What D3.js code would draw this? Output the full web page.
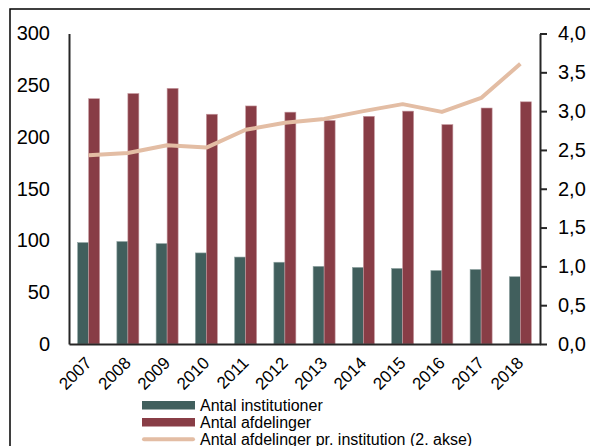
<!DOCTYPE html>
<html>
<head>
<meta charset="utf-8">
<script src="https://cdnjs.cloudflare.com/ajax/libs/d3/7.8.5/d3.min.js"></script>
<style>
  body { margin: 0; background: #fff; }
  svg { font-family: "Liberation Sans", Arial, sans-serif; }
</style>
</head>
<body>
<svg width="590" height="446"></svg>
<script>
// data
var years = ['2007', '2008', '2009', '2010', '2011', '2012', '2013', '2014', '2015', '2016', '2017', '2018']
var institutioner = [98, 99, 97, 88, 84, 79, 75, 74, 73, 71, 72, 65]
var afdelinger = [237, 242, 247, 222, 230, 224, 216, 220, 225, 212, 228, 234]
var prInstitution = [2.43, 2.46, 2.56, 2.53, 2.76, 2.85, 2.90, 3.00, 3.09, 2.99, 3.17, 3.61]
var leftTicks = [0, 50, 100, 150, 200, 250, 300]
var rightTicks = [0, 0.5, 1, 1.5, 2, 2.5, 3, 3.5, 4]
var seriesNames = ['Antal institutioner', 'Antal afdelinger', 'Antal afdelinger pr. institution (2. akse)']

var green = '#415f5d'
var red = '#883d46'
var sand = '#e3bda4'
var axisColor = '#262626'

var svg = d3.select('svg')
var margin = { top: 33.5, right: 50, bottom: 102, left: 69 }
var width = 540 - margin.left
var height = 344 - margin.top

// outer frame
svg.append('rect')
  .attr('x', 10).attr('y', 9)
  .attr('width', 620).attr('height', 500)
  .attr('fill', 'none')
  .attr('stroke', '#000')
  .attr('stroke-width', 1.5)

var g = svg.append('g')
  .attr('transform', 'translate(' + margin.left + ',' + margin.top + ')')

var x = d3.scaleBand().domain(years).range([0, width]).paddingInner(0).paddingOuter(0)
var y = d3.scaleLinear().domain([0, 300]).range([height, 0])
var y2 = d3.scaleLinear().domain([0, 4]).range([height, 0])

var barW = 11

// bars
g.selectAll('.inst')
  .data(institutioner)
  .enter().append('rect')
  .attr('x', function (d, i) { return x(years[i]) + x.bandwidth() / 2 - barW })
  .attr('y', function (d) { return y(d) })
  .attr('width', barW)
  .attr('height', function (d) { return height - y(d) })
  .attr('fill', green)
  .attr('stroke', '#8fa3a2')
  .attr('stroke-width', 0.6)

g.selectAll('.afd')
  .data(afdelinger)
  .enter().append('rect')
  .attr('x', function (d, i) { return x(years[i]) + x.bandwidth() / 2 })
  .attr('y', function (d) { return y(d) })
  .attr('width', barW)
  .attr('height', function (d) { return height - y(d) })
  .attr('fill', red)
  .attr('stroke', '#c79aa0')
  .attr('stroke-width', 0.6)

// line
var line = d3.line()
  .x(function (d, i) { return x(years[i]) + x.bandwidth() / 2 })
  .y(function (d) { return y2(d) })

g.append('path')
  .datum(prInstitution)
  .attr('fill', 'none')
  .attr('stroke', sand)
  .attr('stroke-width', 4)
  .attr('stroke-linejoin', 'round')
  .attr('d', line)

// left axis
var ax = g.append('g')
  .call(d3.axisLeft(y).tickValues(leftTicks).tickSize(0).tickPadding(19))
ax.select('.domain').attr('stroke', axisColor).attr('stroke-width', 2)
ax.selectAll('text').attr('font-size', 20).attr('fill', '#000')
  .attr('font-family', '"Liberation Sans", Arial, sans-serif')

// right axis
var ar = g.append('g')
  .attr('transform', 'translate(' + width + ',0)')
  .call(d3.axisRight(y2).tickValues(rightTicks).tickSize(7).tickSizeOuter(0).tickPadding(11)
    .tickFormat(function (d) { return d3.format('.1f')(d).replace('.', ',') }))
ar.select('.domain').attr('stroke', axisColor).attr('stroke-width', 2)
ar.selectAll('line').attr('stroke', axisColor).attr('stroke-width', 2)
ar.selectAll('text').attr('font-size', 20).attr('fill', '#000')
  .attr('font-family', '"Liberation Sans", Arial, sans-serif')

// bottom axis
var ab = g.append('g')
  .attr('transform', 'translate(0,' + height + ')')
  .call(d3.axisBottom(x).tickSize(0).tickPadding(0))
ab.select('.domain').attr('stroke', axisColor).attr('stroke-width', 2)
ab.selectAll('text')
  .attr('font-size', 17).attr('fill', '#000')
  .attr('font-family', '"Liberation Sans", Arial, sans-serif')
  .attr('text-anchor', 'end')
  .attr('dy', null)
  .attr('transform', 'translate(4,20) rotate(-45)')

// legend
var legend = svg.append('g').attr('transform', 'translate(142,0)')
var rows = [401, 418, 435]
seriesNames.forEach(function (name, i) {
  var row = legend.append('g').attr('transform', 'translate(0,' + rows[i] + ')')
  if (i < 2) {
    row.append('rect').attr('x', 0).attr('y', 0).attr('width', 53).attr('height', 8.5)
      .attr('fill', i === 0 ? green : red)
  } else {
    row.append('line').attr('x1', 2).attr('x2', 51).attr('y1', 4.3).attr('y2', 4.3)
      .attr('stroke', sand).attr('stroke-width', 4).attr('stroke-linecap', 'round')
  }
  row.append('text').attr('x', 58).attr('y', 10)
    .attr('font-size', 16).attr('fill', '#000')
    .text(name)
})
</script>
</body>
</html>
